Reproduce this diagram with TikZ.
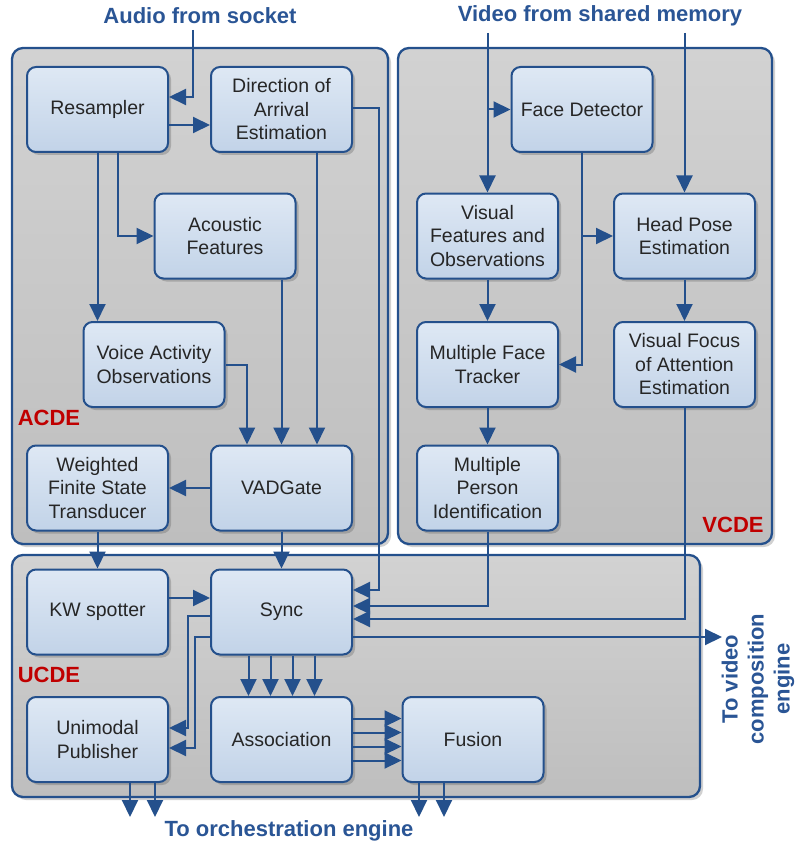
\documentclass[tikz,border=0pt]{standalone}
\usepackage{fontspec}
\setmainfont{Liberation Sans}
\usetikzlibrary{arrows.meta,shadows,calc}
\definecolor{bdr}{HTML}{24508C}
\definecolor{ttl}{HTML}{2A5595}
\definecolor{redc}{HTML}{C00000}
\definecolor{nodetop}{HTML}{DEE8F4}
\definecolor{nodebot}{HTML}{C2D3E8}
\definecolor{conttop}{HTML}{D2D2D2}
\definecolor{contbot}{HTML}{BEBEBE}
\newcommand\myNodeFont{\fontsize{19.5}{23.5}\selectfont}
\newcommand\myTitleFont{\fontsize{22}{26}\selectfont\bfseries}
\tikzset{
 blk/.style={rectangle, rounded corners=9pt, draw=bdr, line width=2pt,
   top color=nodetop, bottom color=nodebot, minimum width=141pt, minimum height=85pt,
   inner sep=2pt, align=center, font=\myNodeFont, text=black!85,
   drop shadow={shadow xshift=3pt, shadow yshift=-3pt, opacity=0.35, fill=black!60}},
 cont/.style={rectangle, rounded corners=11pt, draw=bdr, line width=2.3pt,
   top color=conttop, bottom color=contbot, inner sep=0pt,
   drop shadow={shadow xshift=3pt, shadow yshift=-3pt, opacity=0.3, fill=black!60}},
 arr/.style={draw=bdr, line width=2pt, -{Triangle[length=17pt,width=16pt]}},
 ttlnode/.style={font=\myTitleFont, text=ttl},
 lab/.style={font=\myTitleFont, text=redc}
}
\begin{document}
\begin{tikzpicture}[x=1pt,y=-1pt]
\useasboundingbox (0,0) rectangle (795,845);
% containers
\node[cont, minimum width=376pt, minimum height=496pt] (acde) at (200,296) {};
\node[cont, minimum width=374pt, minimum height=496pt] (vcde) at (585,296) {};
\node[cont, minimum width=688pt, minimum height=242pt] (ucde) at (356,676) {};
\node[lab] (acdel) at (49,418) {ACDE};
\node[lab] (vcdel) at (733,525) {VCDE};
\node[lab] (ucdel) at (49,675) {UCDE};
% titles
\node[ttlnode] (t1) at (200,16) {Audio from socket};
\node[ttlnode] (t2) at (600,16) {Video from shared memory};
\node[ttlnode] (t3) at (289,831) {To orchestration engine};
\node[ttlnode, rotate=90, align=center] (t4) at (758,679) {To video\\composition\\engine};
% blocks
\node[blk] (res) at (97.5,109.5) {Resampler};
\node[blk] (doa) at (281.5,109.5) {Direction of\\Arrival\\Estimation};
\node[blk] (ac) at (225,236) {Acoustic\\Features};
\node[blk] (vao) at (154,364.5) {Voice Activity\\Observations};
\node[blk] (vad) at (281.5,488) {VADGate};
\node[blk] (wfst) at (97.5,488) {Weighted\\Finite State\\Transducer};
\node[blk] (fd) at (582,109.5) {Face Detector};
\node[blk] (vfo) at (487.5,236) {Visual\\Features and\\Observations};
\node[blk] (hp) at (684.5,236) {Head Pose\\Estimation};
\node[blk] (mft) at (487.5,364.5) {Multiple Face\\Tracker};
\node[blk] (vfoa) at (684.5,364.5) {Visual Focus\\of Attention\\Estimation};
\node[blk] (mpi) at (487.5,488) {Multiple\\Person\\Identification};
\node[blk] (kw) at (97.5,612) {KW spotter};
\node[blk] (sync) at (281.5,612) {Sync};
\node[blk] (up) at (97.5,739.5) {Unimodal\\Publisher};
\node[blk] (assoc) at (281.5,739.5) {Association};
\node[blk] (fus) at (473,739.5) {Fusion};
% free ends
\coordinate (ain) at (193,30);
\coordinate (vin1) at (487.5,33);
\coordinate (vin2) at (684.5,33);
\coordinate (out1) at (130,817);
\coordinate (out2) at (155,817);
\coordinate (out3) at (419,817);
\coordinate (out4) at (444,817);
\coordinate (vout) at (722,637);
% audio side
\draw[arr] (ain) |- ([yshift=12.5pt]res.east);
\draw[arr] ([yshift=-15.5pt]res.east) -- ([yshift=-15.5pt]doa.west);
\draw[arr] ([xshift=20.5pt]res.south) |- (ac.west);
\draw[arr] (res.south) -- (res.south |- vao.north);
\draw[arr] ([xshift=35.5pt]doa.south) -- ([xshift=35.5pt]vad.north);
\draw[arr] (vad.north |- ac.south) -- (vad.north);
\draw[arr] (vao.east) -| ([xshift=-34.5pt]vad.north);
\draw[arr] ([yshift=1.5pt]doa.east) -- ++(26,0) |- ([yshift=22pt]sync.east);
\draw[arr] (vad.west) -- (wfst.east);
\draw[arr] (wfst.south) -- (kw.north);
\draw[arr] (vad.south) -- (sync.north);
\draw[arr] ([yshift=14pt]kw.east) -- ([yshift=14pt]sync.west);
\draw[arr] ([yshift=-4pt]sync.west) -- ++(-22,0) |- ([yshift=11.5pt]up.east);
\draw[arr] ([yshift=-25pt]sync.west) -- ++(-15,0) |- ([yshift=-8.5pt]up.east);
\foreach \dx in {-33,-11,11,33}{
  \draw[arr] ([xshift=\dx pt]sync.south) -- ([xshift=\dx pt]assoc.north);}
\foreach \dy in {-21,-7,7,21}{
  \draw[arr] ([yshift=\dy pt]assoc.east) -- ([yshift=\dy pt]fus.west);}
\draw[arr] (up.south -| out1) -- (out1);
\draw[arr] (up.south -| out2) -- (out2);
\draw[arr] (fus.south -| out3) -- (out3);
\draw[arr] (fus.south -| out4) -- (out4);
% video side
\draw[arr] (vin1) -- (vfo.north);
\draw[arr] (vin1 |- fd.west) -- (fd.west);
\draw[arr] (vin2) -- (hp.north);
\draw[arr] (fd.south) |- (hp.west);
\draw[arr] (fd.south) |- (mft.east);
\draw[arr] (vfo.south) -- (mft.north);
\draw[arr] (mft.south) -- (mpi.north);
\draw[arr] (hp.south) -- (vfoa.north);
\draw[arr] (mpi.south) |- ([yshift=6pt]sync.east);
\draw[arr] (vfoa.south) |- ([yshift=-7pt]sync.east);
\draw[arr] ([yshift=-25pt]sync.east) -- (vout);
\end{tikzpicture}
\end{document}
